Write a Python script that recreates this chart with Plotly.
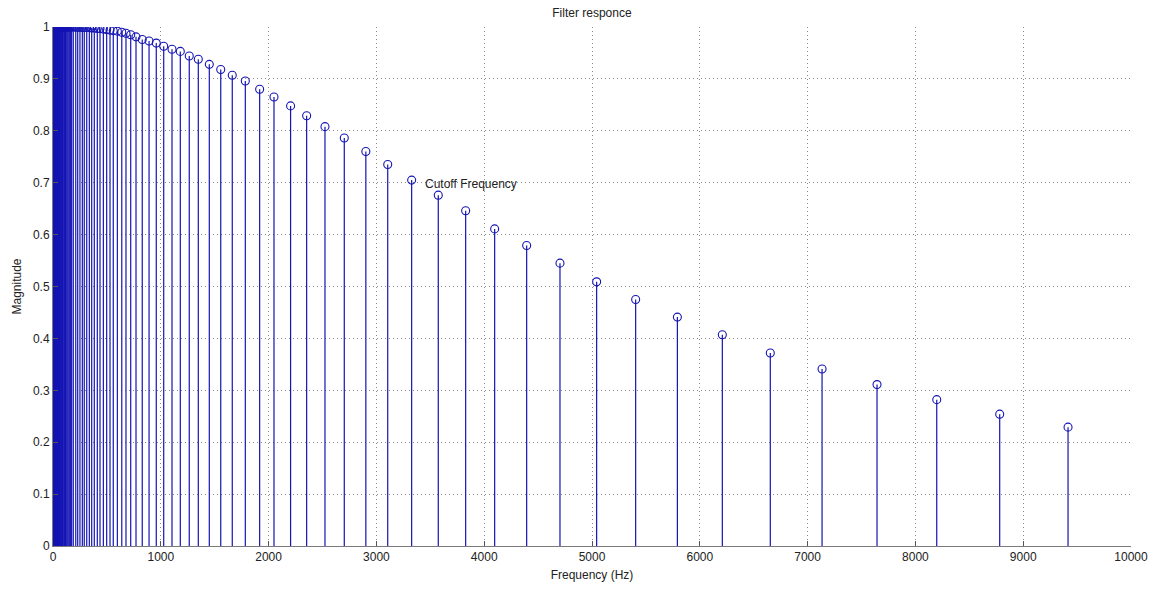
import plotly.graph_objects as go

# Frequencies (Hz) of each stem
freq_hz = [
    1, 2, 3, 4, 5, 6, 7, 8, 9,
    10, 11, 12, 13, 14, 15, 16, 17, 18, 19,
    20, 21.5, 23, 24.5, 26, 28, 30, 32, 34, 36.5,
    39, 42, 45, 48, 51, 55, 59, 63, 67, 72,
    77, 82, 88, 94, 101, 108, 115, 123, 132, 141,
    151, 161, 173, 188, 211, 229, 250, 272, 290, 313,
    337, 359, 383, 411, 436, 467, 498, 529, 559, 597,
    638, 677, 721, 770, 828, 891, 958, 1027, 1104,
    1181, 1264, 1348, 1450, 1556, 1663, 1784, 1917, 2050, 2204,
    2353, 2523, 2702, 2902, 3105, 3327, 3574, 3828, 4097, 4394,
    4703, 5043, 5405, 5792, 6209, 6654, 7134, 7644, 8198, 8782,
    9416,
]

# Magnitude of each stem
magnitude = [
    1.0, 1.0, 1.0, 1.0, 1.0, 1.0, 1.0, 1.0, 1.0,
    1.0, 1.0, 1.0, 1.0, 1.0, 1.0, 1.0, 1.0, 1.0, 1.0,
    1.0, 1.0, 1.0, 1.0, 1.0, 1.0, 1.0, 1.0, 1.0, 1.0,
    1.0, 1.0, 1.0, 1.0, 1.0, 1.0, 1.0, 1.0, 1.0, 1.0,
    1.0, 1.0, 1.0, 1.0, 1.0, 1.0, 1.0, 1.0, 1.0, 1.0,
    1.0, 1.0, 1.0, 1.0, 0.9995, 0.9995, 0.9995, 0.999, 0.999, 0.999,
    0.999, 0.998, 0.998, 0.997, 0.997, 0.996, 0.995, 0.994, 0.993, 0.992,
    0.990, 0.988, 0.985, 0.981, 0.976, 0.973, 0.969, 0.963, 0.957,
    0.953, 0.944, 0.938, 0.928, 0.918, 0.907, 0.896, 0.880, 0.865, 0.848,
    0.829, 0.808, 0.786, 0.760, 0.735, 0.705, 0.676, 0.646, 0.611, 0.579,
    0.545, 0.509, 0.475, 0.441, 0.407, 0.372, 0.341, 0.311, 0.282, 0.254,
    0.229,
]

x_ticks = [0, 1000, 2000, 3000, 4000, 5000, 6000, 7000, 8000, 9000, 10000]
x_tick_labels = ["0", "1000", "2000", "3000", "4000", "5000", "6000", "7000", "8000", "9000", "10000"]
y_ticks = [0, 0.1, 0.2, 0.3, 0.4, 0.5, 0.6, 0.7, 0.8, 0.9, 1]
y_tick_labels = ["0", "0.1", "0.2", "0.3", "0.4", "0.5", "0.6", "0.7", "0.8", "0.9", "1"]

annotation_text = "Cutoff Frequency"
annotation_x = 3432
annotation_y = 0.698

STEM_COLOR = "#1414b4"
FONT = "Liberation Sans, Arial, sans-serif"

# Build stem segments
sx, sy = [], []
for f, m in zip(freq_hz, magnitude):
    sx += [f, f, None]
    sy += [0, m, None]

fig = go.Figure()
fig.add_trace(go.Scatter(
    x=sx, y=sy, mode="lines",
    line=dict(color=STEM_COLOR, width=1.2),
    hoverinfo="skip", showlegend=False,
))
fig.add_trace(go.Scatter(
    x=freq_hz, y=magnitude, mode="markers",
    marker=dict(symbol="circle-open", size=8, color=STEM_COLOR,
                line=dict(width=1.1, color=STEM_COLOR)),
    showlegend=False,
))

fig.add_annotation(
    x=annotation_x, y=annotation_y, text=annotation_text,
    showarrow=False, xanchor="left", yanchor="middle",
    font=dict(family=FONT, size=12, color="#222222"),
)

axis_common = dict(
    showgrid=True, gridcolor="#8a8a8a", griddash="1px,3px", gridwidth=1,
    zeroline=False, showline=True, linecolor="#7a7a7a", linewidth=1,
    ticks="inside", ticklen=5, tickcolor="#555555",
    tickfont=dict(family=FONT, size=12, color="#222222"),
)

fig.update_layout(
    width=1163, height=592,
    margin=dict(l=53, r=32, t=27, b=41),
    paper_bgcolor="white", plot_bgcolor="white",
    font=dict(family=FONT, size=12, color="#222222"),
    title=dict(text="Filter responce", x=0.509, xanchor="center",
               y=1 - 13 / 592, yanchor="middle", yref="container",
               font=dict(family=FONT, size=12, color="#222222")),
    xaxis=dict(range=[0, 10000], tickvals=x_ticks, ticktext=x_tick_labels,
               title=dict(text="Frequency (Hz)", standoff=7,
                          font=dict(family=FONT, size=12, color="#222222")),
               **axis_common),
    yaxis=dict(range=[0, 1], tickvals=y_ticks, ticktext=y_tick_labels,
               title=dict(text="Magnitude", standoff=8,
                          font=dict(family=FONT, size=12, color="#222222")),
               **axis_common),
)

fig.write_html("out.html")
